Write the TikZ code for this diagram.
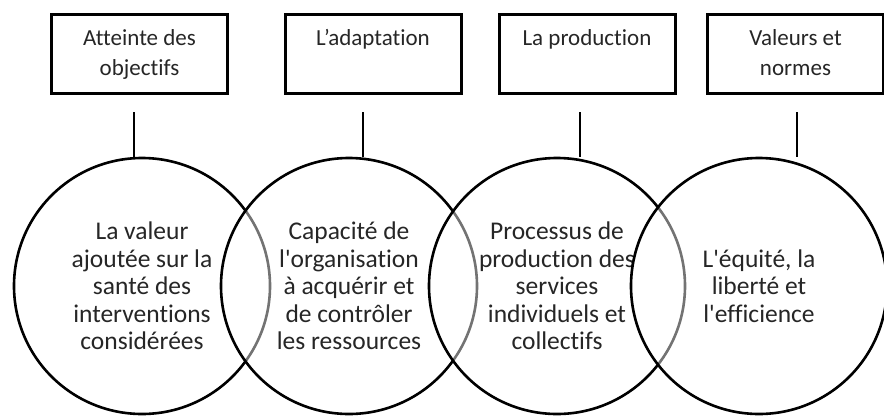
\documentclass[tikz,border=0pt]{standalone}
\usepackage{fontspec}
\setmainfont{Carlito}[Ligatures={TeX,NoCommon}]
\usepackage{tikz}

\begin{document}
\begin{tikzpicture}[x=1pt, y=-1pt,
                    boxnode/.style={rectangle, draw=black, line width=3pt, minimum width=176pt, minimum height=79pt,
                                    align=center, text=black!85, font=\fontsize{23}{30}\selectfont},
                    ringnode/.style={circle, draw=black, line width=2.6pt, minimum size=256pt, fill=white, fill opacity=0.45,
                                     text opacity=1, align=center, text=black!85, font=\fontsize{25.5}{27.5}\selectfont},
                    stem/.style={draw=black, line width=2.4pt}]
                \useasboundingbox (0,0) rectangle (884,416);
                \node[boxnode] (1) at (139.5,54) {\strut Atteinte des\\\strut objectifs};
                \node[boxnode] (2) at (373,54) {\strut L’adaptation\\\strut};
                \node[boxnode] (3) at (587,54) {\strut La production\\\strut};
                \node[boxnode] (4) at (795.5,54) {\strut Valeurs et\\\strut normes};
                \node[ringnode] (5) at (142,286) {La valeur\\ajoutée sur la\\santé des\\interventions\\considérées};
                \node[ringnode] (6) at (349,286) {Capacité de\\l\textquotesingle organisation\\à acquérir et\\de contrôler\\les ressources};
                \node[ringnode] (7) at (557,286) {Processus de\\production des\\services\\individuels et\\collectifs};
                \node[ringnode] (8) at (759,286) {L\textquotesingle équité, la\\liberté et\\l\textquotesingle efficience};
                \coordinate (s1) at (134,112);
                \coordinate (s2) at (363,112);
                \coordinate (s3) at (580,112);
                \coordinate (s4) at (797,112);
                \draw[stem] (s1) -- (s1 |- 5.north);
                \draw[stem] (s2) -- (s2 |- 6.north);
                \draw[stem] (s3) -- (s3 |- 7.north);
                \draw[stem] (s4) -- (s4 |- 8.north);
            \end{tikzpicture}
\end{document}
